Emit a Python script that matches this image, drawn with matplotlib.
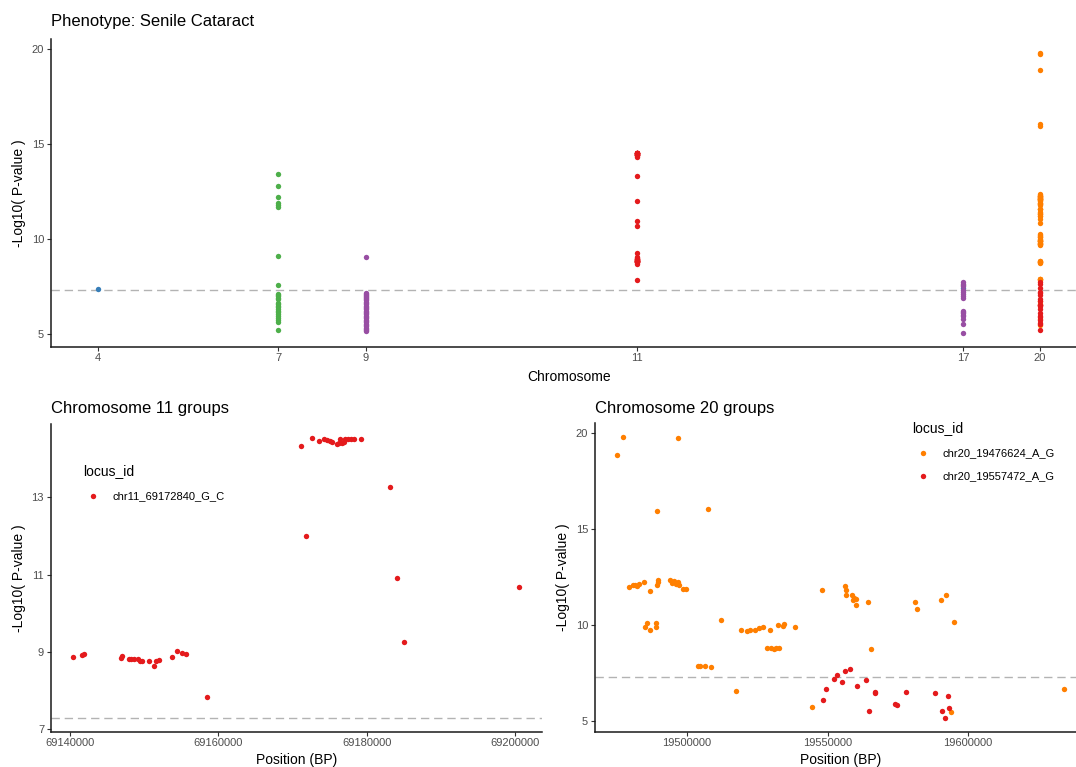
import matplotlib.pyplot as plt

plt.rcParams['font.family'] = ['Liberation Sans', 'DejaVu Sans']

# Set1 colours, as in the original ggplot figure
RED = '#E41A1C'
BLUE = '#377EB8'
GREEN = '#4DAF4A'
PURPLE = '#984EA3'
ORANGE = '#FF7F00'

GWS_LINE = 7.3  # -log10(5e-8)

# --- top panel: chromosome and cumulative position on the x axis
chromosomes = [4, 7, 9, 11, 17, 20]
chrom_pos = [0, 361, 536, 1079, 1731, 1883]

chr4_blue = [7.35]
chr7_green = [13.41, 12.77, 12.17, 11.86, 11.75, 11.65, 9.07, 7.56, 7.08, 7.02, 6.96,
              6.90, 6.84, 6.62, 6.55, 6.47, 6.38, 6.30, 6.21, 6.12, 6.03, 5.94, 5.85,
              5.72, 5.62, 5.19]
chr9_purple = [9.02, 7.12, 7.08, 7.02, 6.97, 6.93, 6.88, 6.82, 6.75, 6.69, 6.61, 6.55,
               6.48, 6.41, 6.36, 6.30, 6.22, 6.15, 6.08, 6.01, 5.95, 5.88, 5.80, 5.74,
               5.66, 5.59, 5.52, 5.45, 5.38, 5.31, 5.25, 5.18, 5.12]
chr17_purple = [7.72, 7.64, 7.52, 7.28, 7.20, 7.10, 6.96, 6.86, 6.22, 6.15, 6.08, 6.00,
                5.95, 5.78, 5.50, 5.05]
chr17_green = [7.56]
chr17_blue = [7.38]

# --- chromosome 11 locus
chr11_label = 'chr11_69172840_G_C'
chr11_bp = [69140417, 69141620, 69141850, 69146850, 69147080, 69147960, 69148290,
            69148700, 69149170, 69149430, 69149720, 69150600, 69151390, 69151620,
            69152040, 69153750, 69154490, 69155140, 69155600, 69158430, 69171160,
            69171850, 69172680, 69173560, 69174210, 69174680, 69175050, 69175370,
            69175970, 69176290, 69176340, 69176670, 69176900, 69177130, 69177450,
            69177920, 69178240, 69179170, 69183190, 69184070, 69184960, 69200560]
chr11_logp = [8.88, 8.91, 8.95, 8.85, 8.90, 8.82, 8.82, 8.81, 8.81, 8.78, 8.78, 8.77,
              8.65, 8.78, 8.80, 8.88, 9.02, 8.97, 8.95, 7.84, 14.32, 11.99, 14.53,
              14.45, 14.51, 14.48, 14.47, 14.43, 14.39, 14.40, 14.50, 14.41, 14.43,
              14.50, 14.50, 14.51, 14.50, 14.52, 13.28, 10.91, 9.27, 10.67]

# --- chromosome 20 loci
chr20a_label = 'chr20_19476624_A_G'
chr20a_bp = [19475073, 19477120, 19496715, 19489420, 19507420, 19479200, 19480660,
             19481390, 19482220, 19482740, 19484780, 19486740, 19489170, 19489660,
             19489540, 19494050, 19494650, 19495380, 19496000, 19496620, 19497190,
             19498540, 19499760, 19484900, 19485770, 19486740, 19488800, 19488930,
             19512040, 19519100, 19521170, 19522390, 19524210, 19525440, 19527120,
             19529680, 19532370, 19534200, 19534670, 19538430, 19528470, 19530050,
             19530900, 19531750, 19532740, 19504020, 19504740, 19506460, 19508650,
             19517400, 19544400, 19547930, 19556200, 19556570, 19556690, 19558760,
             19559120, 19559490, 19559970, 19560100, 19564480, 19565330, 19581270,
             19582000, 19590270, 19592340, 19593920, 19595000, 19634310]
chr20a_logp = [18.86, 19.76, 19.74, 15.94, 16.06, 11.97, 12.08, 12.10, 12.03, 12.15,
               12.22, 11.75, 12.10, 12.34, 12.23, 12.32, 12.20, 12.27, 12.16, 12.23,
               12.10, 11.87, 11.90, 9.90, 10.09, 9.76, 9.92, 10.12, 10.26, 9.76, 9.69,
               9.73, 9.74, 9.86, 9.90, 9.73, 9.99, 9.94, 10.07, 9.90, 8.81, 8.81, 8.74,
               8.79, 8.79, 7.87, 7.87, 7.89, 7.82, 6.58, 5.77, 11.80, 12.02, 11.80,
               11.58, 11.54, 11.30, 11.39, 11.04, 11.37, 11.21, 8.76, 11.21, 10.85,
               11.30, 11.54, 5.47, 10.18, 6.70]

chr20b_label = 'chr20_19557472_A_G'
chr20b_bp = [19548290, 19549510, 19552440, 19553280, 19554990, 19556080, 19557920,
             19560470, 19563750, 19564600, 19566900, 19567030, 19573980, 19574710,
             19577850, 19588320, 19590630, 19591720, 19593070, 19593190]
chr20b_logp = [6.11, 6.70, 7.22, 7.39, 7.03, 7.61, 7.74, 6.82, 7.15, 5.54, 6.53, 6.49,
               5.92, 5.87, 6.51, 6.47, 5.52, 5.19, 6.32, 5.70]

W, H = 1076, 767
PT_SIZE = 15


def box(left, top, right, bottom):
    # pixel box -> figure fraction; the original plot was cropped on the right
    return [left / W, 1 - bottom / H, (right - left) / W, (bottom - top) / H]


def expand(values, frac=0.05):
    lo, hi = min(values), max(values)
    pad = (hi - lo) * frac
    return lo - pad, hi + pad


def style(ax):
    ax.spines['top'].set_visible(False)
    ax.spines['right'].set_visible(False)
    for side in ['left', 'bottom']:
        ax.spines[side].set_linewidth(1.1)
        ax.spines[side].set_color('#1a1a1a')
    ax.tick_params(length=2.7, width=0.8, color='#333333', labelcolor='#4D4D4D',
                   labelsize=8, pad=2)
    ax.axhline(GWS_LINE, color='#B3B3B3', lw=1, ls=(0, (6, 3.5)), zorder=0)


def add_legend(ax, anchor):
    ax.legend(title='locus_id', loc='upper left', bbox_to_anchor=anchor,
              frameon=False, fontsize=8, title_fontsize=10, alignment='left',
              handlelength=1.9, handletextpad=0.76, labelspacing=1.15,
              borderpad=1.1, borderaxespad=0)


fig = plt.figure(figsize=(W / 100, H / 100), dpi=100)

# ---------------- top: manhattan-style overview
ax = fig.add_axes(box(50.6, 39.3, 1086.6, 346.7))
style(ax)
groups = [
    (4, chr4_blue, BLUE),
    (7, chr7_green, GREEN),
    (9, chr9_purple, PURPLE),
    (11, chr11_logp, RED),
    (17, chr17_green, GREEN),
    (17, chr17_blue, BLUE),
    (17, chr17_purple, PURPLE),
    (20, chr20a_logp, ORANGE),
    (20, chr20b_logp, RED),
]
all_y = []
for chrom, vals, col in groups:
    x = chrom_pos[chromosomes.index(chrom)]
    ax.scatter([x] * len(vals), vals, s=PT_SIZE, color=col, linewidths=0)
    all_y += vals
ax.set_xlim(*expand(chrom_pos))
ax.set_ylim(*expand(all_y + [GWS_LINE]))
ax.set_xticks(chrom_pos)
ax.set_xticklabels([str(c) for c in chromosomes])
ax.set_yticks([5, 10, 15, 20])
ax.set_xlabel('Chromosome', fontsize=10, va='center')
ax.set_ylabel('-Log10( P-value )', fontsize=10, va='center')
ax.xaxis.set_label_coords(0.5, -0.0976)
ax.yaxis.set_label_coords(-0.0306, 0.5)
fig.text(50.6 / W, 1 - 26 / H, 'Phenotype: Senile Cataract', fontsize=12, va='baseline')

# ---------------- bottom left: chromosome 11
ax = fig.add_axes(box(50.6, 424.3, 541.7, 731.7))
style(ax)
ax.scatter(chr11_bp, chr11_logp, s=PT_SIZE, color=RED, linewidths=0, label=chr11_label)
ax.set_xlim(*expand(chr11_bp))
ax.set_ylim(*expand(chr11_logp + [GWS_LINE]))
ax.set_xticks([69140000, 69160000, 69180000, 69200000])
ax.set_xticklabels(['69140000', '69160000', '69180000', '69200000'])
ax.set_yticks([7, 9, 11, 13])
ax.set_xlabel('Position (BP)', fontsize=10, va='center')
ax.set_ylabel('-Log10( P-value )', fontsize=10, va='center')
ax.xaxis.set_label_coords(0.5, -0.092)
ax.yaxis.set_label_coords(-0.0645, 0.5)
add_legend(ax, (0.0405, 0.909))
fig.text(50.6 / W, 1 - 413 / H, 'Chromosome 11 groups', fontsize=12, va='baseline')

# ---------------- bottom right: chromosome 20
ax = fig.add_axes(box(594.7, 423.3, 1086.7, 731.7))
style(ax)
ax.scatter(chr20a_bp, chr20a_logp, s=PT_SIZE, color=ORANGE, linewidths=0, label=chr20a_label)
ax.scatter(chr20b_bp, chr20b_logp, s=PT_SIZE, color=RED, linewidths=0, label=chr20b_label)
ax.set_xlim(*expand(chr20a_bp + chr20b_bp))
ax.set_ylim(*expand(chr20a_logp + chr20b_logp + [GWS_LINE]))
ax.set_xticks([19500000, 19550000, 19600000])
ax.set_xticklabels(['19500000', '19550000', '19600000'])
ax.set_yticks([5, 10, 15, 20])
ax.set_xlabel('Position (BP)', fontsize=10, va='center')
ax.set_ylabel('-Log10( P-value )', fontsize=10, va='center')
ax.xaxis.set_label_coords(0.5, -0.092)
ax.yaxis.set_label_coords(-0.064, 0.5)
add_legend(ax, (0.6213, 1.0457))
fig.text(594.7 / W, 1 - 413 / H, 'Chromosome 20 groups', fontsize=12, va='baseline')

fig.savefig('out.png', dpi=100)
